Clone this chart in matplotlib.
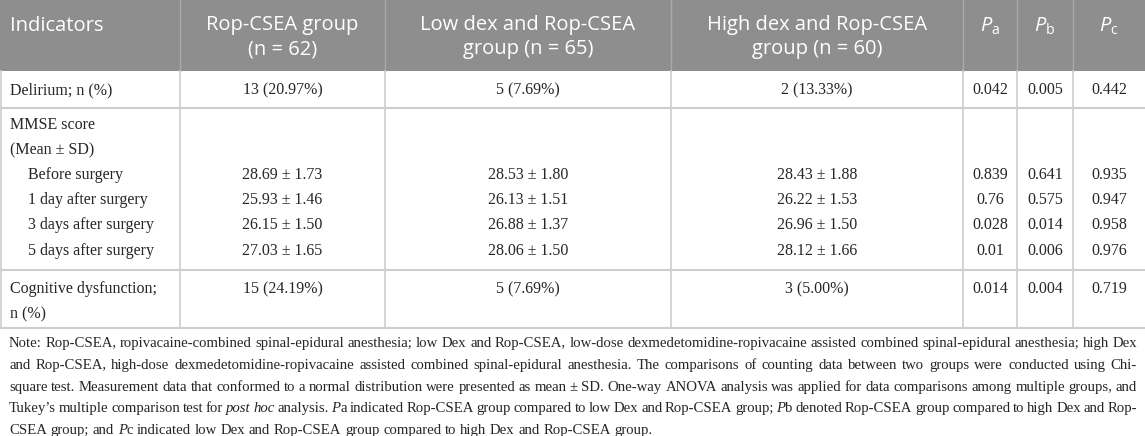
import matplotlib
matplotlib.use("Agg")
import matplotlib.pyplot as plt

W, H = 1145, 436

# --- Table content ---
header_lines = [
    ["Indicators"],
    ["Rop-CSEA group", "(n = 62)"],
    ["Low dex and Rop-CSEA", "group (n = 65)"],
    ["High dex and Rop-CSEA", "group (n = 60)"],
    [r"$P_{\mathrm{a}}$"],
    [r"$P_{\mathrm{b}}$"],
    [r"$P_{\mathrm{c}}$"],
]

row_labels = [
    ["Delirium; n (%)"],
    ["MMSE score", "(Mean ± SD)"],
    ["Before surgery"],
    ["1 day after surgery"],
    ["3 days after surgery"],
    ["5 days after surgery"],
    ["Cognitive dysfunction;", "n (%)"],
]
indented = [False, False, True, True, True, True, False]

rop_csea = ["13 (20.97%)", "", "28.69 ± 1.73", "25.93 ± 1.46", "26.15 ± 1.50", "27.03 ± 1.65", "15 (24.19%)"]
low_dex = ["5 (7.69%)", "", "28.53 ± 1.80", "26.13 ± 1.51", "26.88 ± 1.37", "28.06 ± 1.50", "5 (7.69%)"]
high_dex = ["2 (13.33%)", "", "28.43 ± 1.88", "26.22 ± 1.53", "26.96 ± 1.50", "28.12 ± 1.66", "3 (5.00%)"]
p_a = ["0.042", "", "0.839", "0.76", "0.028", "0.01", "0.014"]
p_b = ["0.005", "", "0.641", "0.575", "0.014", "0.006", "0.004"]
p_c = ["0.442", "", "0.935", "0.947", "0.958", "0.976", "0.719"]

# note lines, *...* marks italic
note_lines = [
    "Note: Rop-CSEA, ropivacaine-combined spinal-epidural anesthesia; low Dex and Rop-CSEA, low-dose dexmedetomidine-ropivacaine assisted combined spinal-epidural anesthesia; high Dex",
    "and Rop-CSEA, high-dose dexmedetomidine-ropivacaine assisted combined spinal-epidural anesthesia. The comparisons of counting data between two groups were conducted using Chi-",
    "square test. Measurement data that conformed to a normal distribution were presented as mean ± SD. One-way ANOVA analysis was applied for data comparisons among multiple groups, and",
    "Tukey\u2019s multiple comparison test for *post hoc* analysis. *P*a indicated Rop-CSEA group compared to low Dex and Rop-CSEA group; *P*b denoted Rop-CSEA group compared to high Dex and Rop-",
    "CSEA group; and *P*c indicated low Dex and Rop-CSEA group compared to high Dex and Rop-CSEA group.",
]

# --- Layout (pixels) ---
col_edges = [0.5, 180, 385, 671, 963, 1017, 1073, 1145]
header_bottom = 71
row_lines = [108, 270, 328]
row_y = [90, 125, 175, 200, 225, 251, 289]   # first-line centre for each row
line_step = 25
note_y = [343, 365, 387, 408, 430]

HEAD_BG = "#8e8e8e"
GRID = "#cdcdcd"
HEAD_GRID = "#a9a9a9"
TXT = "#262626"
SERIF = "Liberation Serif"
SANS = "Open Sans"
BODY_FS = 11.5
NOTE_FS = 10.6

plt.rcParams["mathtext.fontset"] = "custom"
plt.rcParams["mathtext.it"] = "Open Sans:italic"
plt.rcParams["mathtext.rm"] = "Open Sans"

fig = plt.figure(figsize=(W / 100, H / 100), dpi=100)
ax = fig.add_axes([0, 0, 1, 1])
ax.set_xlim(0, W)
ax.set_ylim(H, 0)
ax.axis("off")

# header
ax.add_patch(plt.Rectangle((0, 0), W, header_bottom, color=HEAD_BG, lw=0))
for x in col_edges[1:-1]:
    ax.plot([x, x], [0, header_bottom], color=HEAD_GRID, lw=1.0)
for i, lines in enumerate(header_lines):
    if i == 0:
        xt, ha = 10, "left"
    else:
        xt, ha = (col_edges[i] + col_edges[i + 1]) / 2, "center"
    ys = [25, 49] if len(lines) == 2 else [26]
    for txt, yy in zip(lines, ys):
        ax.text(xt, yy, txt, ha=ha, va="center", color="white",
                fontsize=14.5, family=SANS)

# body grid
for y in row_lines:
    ax.plot([0, W], [y, y], color=GRID, lw=1.5)
for x in col_edges[:-1]:
    ax.plot([x, x], [header_bottom, row_lines[-1]], color=GRID, lw=1.2)

# body text
columns = [rop_csea, low_dex, high_dex, p_a, p_b, p_c]
for r, lines in enumerate(row_labels):
    x0 = 28 if indented[r] else 10
    for k, txt in enumerate(lines):
        ax.text(x0, row_y[r] + k * line_step, txt, ha="left", va="center",
                color=TXT, fontsize=BODY_FS, family=SERIF)
    for c, col in enumerate(columns):
        if col[r]:
            xc = (col_edges[c + 1] + col_edges[c + 2]) / 2
            ax.text(xc, row_y[r], col[r], ha="center", va="center",
                    color=TXT, fontsize=BODY_FS, family=SERIF)

# justified note
renderer = fig.canvas.get_renderer()


def parse_words(line):
    words, cur, italic, buf = [], [], False, ""
    for ch in line:
        if ch == "*":
            if buf:
                cur.append((buf, italic))
                buf = ""
            italic = not italic
        elif ch == " ":
            if buf:
                cur.append((buf, italic))
                buf = ""
            if cur:
                words.append(cur)
            cur = []
        else:
            buf += ch
    if buf:
        cur.append((buf, italic))
    if cur:
        words.append(cur)
    return words


def run_width(txt, italic):
    t = ax.text(0, 0, txt, fontsize=NOTE_FS, family=SERIF,
                style="italic" if italic else "normal")
    w = t.get_window_extent(renderer).width
    t.remove()
    return w


nx0, nx1 = 9, 1137
parsed = []
for line in note_lines:
    words = parse_words(line)
    widths = [[run_width(t, it) for t, it in w] for w in words]
    parsed.append((words, widths))

gaps = []
for words, widths in parsed[:-1]:
    total = sum(sum(w) for w in widths)
    gaps.append((nx1 - nx0 - total) / (len(words) - 1))
gaps.append(sum(gaps) / len(gaps))   # last line: ragged, average spacing

for i, (words, widths) in enumerate(parsed):
    x = nx0
    for w, ws in zip(words, widths):
        for (t, it), rw in zip(w, ws):
            ax.text(x, note_y[i], t, ha="left", va="center", color=TXT,
                    fontsize=NOTE_FS, family=SERIF,
                    style="italic" if it else "normal")
            x += rw
        x += gaps[i]

fig.savefig("out.png", dpi=100)
